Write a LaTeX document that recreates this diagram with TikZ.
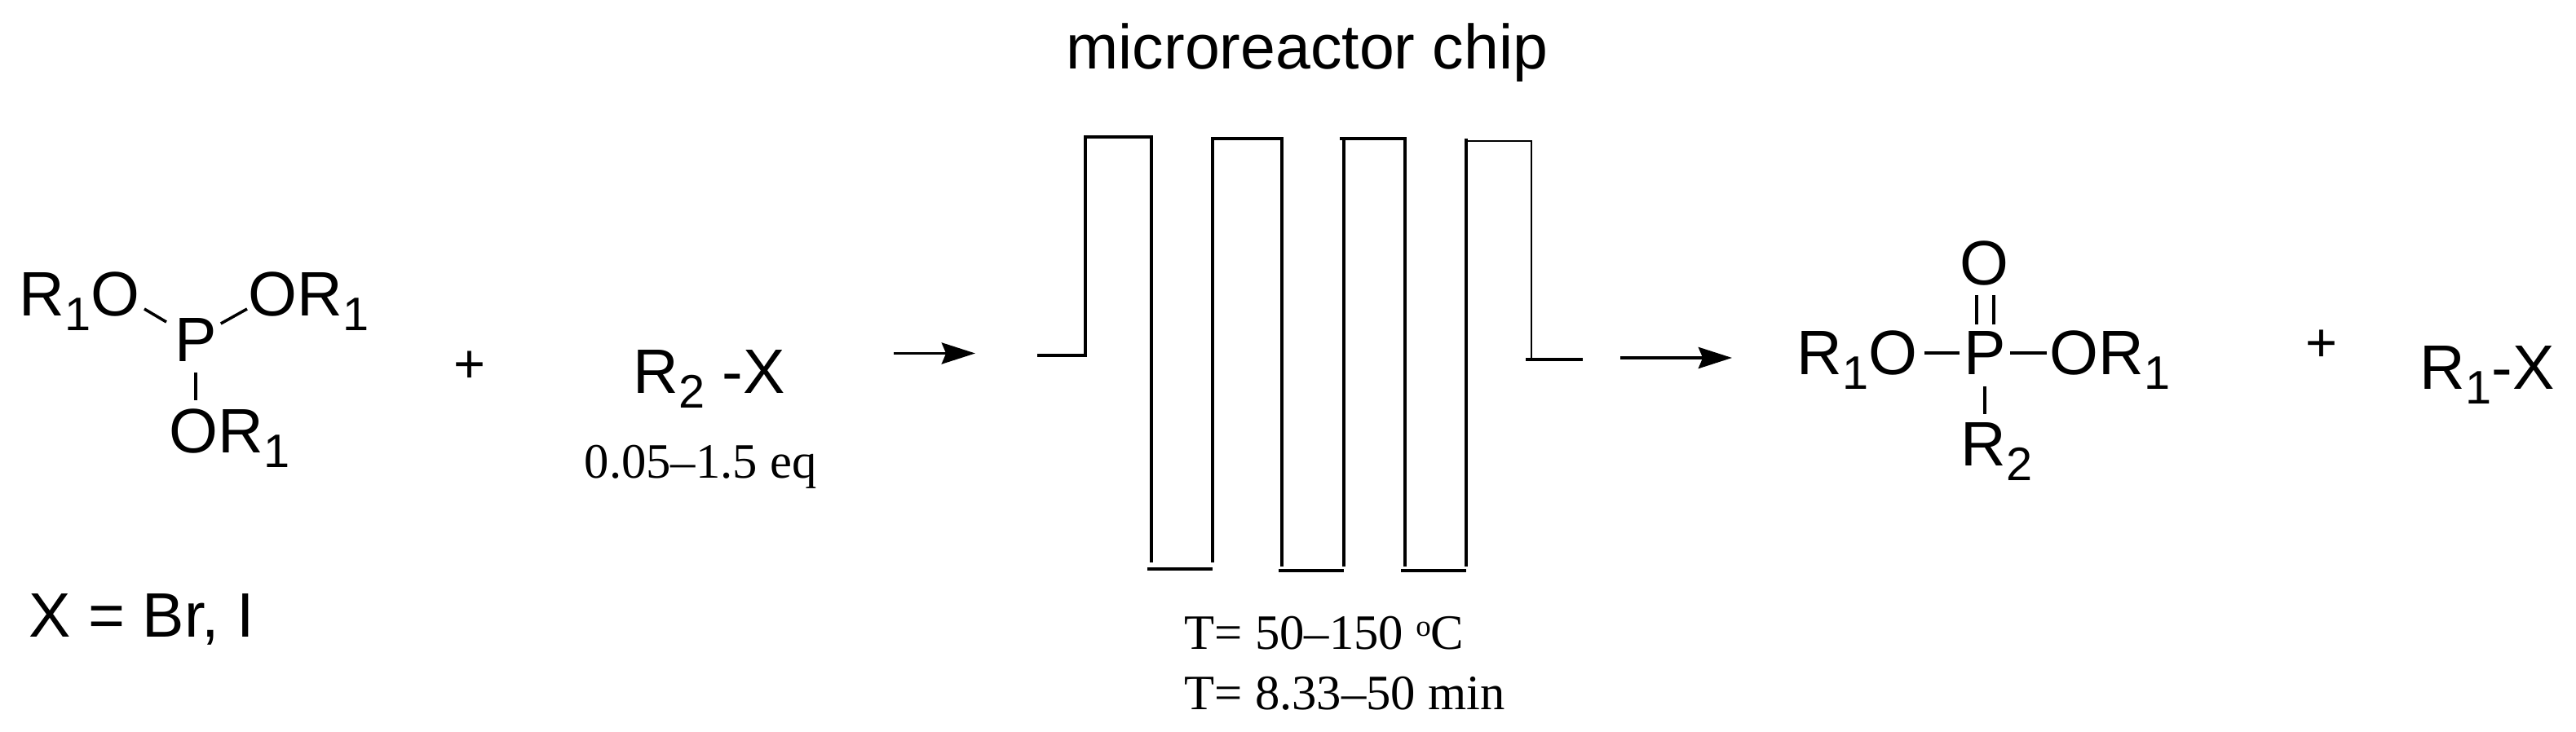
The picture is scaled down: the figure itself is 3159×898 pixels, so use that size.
\documentclass[tikz,border=0pt]{standalone}
\usepackage{fontspec}
\setmainfont{Liberation Serif}
\setsansfont{Liberation Sans}
\usetikzlibrary{arrows.meta}
\tikzset{>=stealth}
\newcommand{\subd}[1]{\raisebox{-0.23em}{\fontsize{16.4}{18}\selectfont #1}}
\newcommand{\supo}[1]{\raisebox{0.28em}{\fontsize{10.5}{12}\selectfont #1}}
\tikzset{
  atom/.style={
    font=\fontsize{21.9}{24}\selectfont\sffamily,
    inner sep=0pt,
    anchor=base west
  },
  cond/.style={
    font=\fontsize{17.25}{20}\selectfont,
    inner sep=0pt,
    anchor=base west
  },
  plussign/.style={
    font=\fontsize{19}{22}\selectfont\sffamily,
    inner sep=0pt
  },
  bond/.style={line width=1pt},
  wall/.style={line width=1.2pt},
  thinwall/.style={line width=0.8pt},
  flow/.style={
    line width=1.1pt,
    -{Stealth[length=11.7pt,width=7.4pt,inset=1.5pt]}
  }
}

\begin{document}
\begin{tikzpicture}[x=0.01cm,y=-0.01cm]
    \useasboundingbox (0,0) rectangle (3159,898);
    \node[atom](roa) at (23,388) {R\subd{1}O};
    \node[atom](rob) at (304,388) {OR\subd{1}};
    \node[atom](pa) at (214,444) {P};
    \node[atom](roc) at (207,556) {OR\subd{1}};
    \draw[bond] ([shift={(5,-9)}]roa.base east) -- ([shift={(-10,-49)}]pa.base west);
    \draw[bond] ([shift={(-1,-9)}]rob.base west) -- ([shift={(4,-47)}]pa.base east);
    \draw[bond] ([shift={(26,13)}]pa.base west) -- ([shift={(33,-65)}]roc.base west);
    \node[plussign](pla) at (576,450) {+};
    \node[atom](rtx) at (776,483) {R\subd{2} -X};
    \node[cond](eq) at (716,587) {0.05--1.5 eq};
    \node[atom](xbr) at (35,782) {X = Br, I};

    \coordinate (ina) at (1096,433.5);
    \coordinate (inb) at (1196,433.5);
    \draw[flow] (ina) -- (inb);

    \node[atom](chip) at (1307,85) {microreactor chip};
    \draw[wall] (1272,436) -- (1331,436) -- (1331,168) -- (1412,168) -- (1412,690);
    \draw[wall] (1407,698) -- (1487,698);
    \draw[wall] (1487,690) -- (1487,170) -- (1572,170) -- (1572,695);
    \draw[wall] (1568,700) -- (1648,700);
    \draw[wall] (1648,695) -- (1648,170);
    \draw[wall] (1643,170) -- (1723,170) -- (1723,695);
    \draw[wall] (1718,700) -- (1798,700);
    \draw[wall] (1798,695) -- (1798,170);
    \draw[thinwall] (1798,173) -- (1878,173) -- (1878,441);
    \draw[wall] (1871,441) -- (1941,441);
    \node[cond](temp) at (1452,797) {T= 50--150 \supo{o}C};
    \node[cond](time) at (1452,870.5) {T= 8.33--50 min};

    \coordinate (outa) at (1987,439);
    \coordinate (outb) at (2124,439);
    \draw[flow] (outa) -- (outb);

    \node[atom](rod) at (2203,460) {R\subd{1}O};
    \node[atom](pb) at (2408,460) {P};
    \node[atom](roe) at (2513,460) {OR\subd{1}};
    \node[atom](oa) at (2403,350) {O};
    \node[atom](rtw) at (2404,572) {R\subd{2}};
    \draw[bond] ([shift={(8,-27)}]rod.base east) -- ([shift={(-5,-27)}]pb.base west);
    \draw[bond] ([shift={(4,-27)}]pb.base east) -- ([shift={(-3,-27)}]roe.base west);
    \draw[bond] ([shift={(21,12)}]oa.base west) -- ([shift={(16,-62)}]pb.base west);
    \draw[bond] ([shift={(42,12)}]oa.base west) -- ([shift={(37,-62)}]pb.base west);
    \draw[bond] ([shift={(26,14)}]pb.base west) -- ([shift={(30,-64)}]rtw.base west);
    \node[plussign](plb) at (2847,424) {+};
    \node[atom](rox) at (2967,478) {R\subd{1}-X};
\end{tikzpicture}
\end{document}
